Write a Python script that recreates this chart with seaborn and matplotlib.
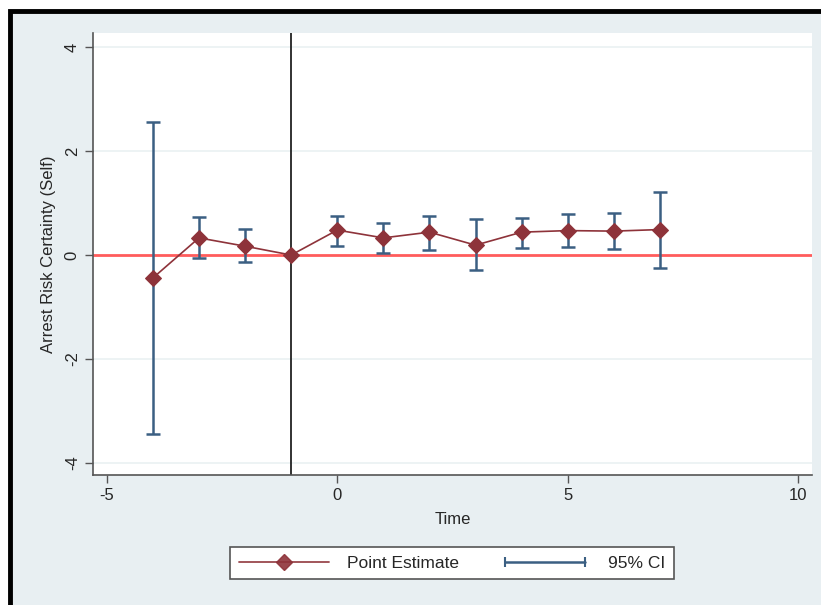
import matplotlib
matplotlib.use("Agg")
import matplotlib.pyplot as plt
import seaborn as sns
import pandas as pd
from matplotlib.lines import Line2D
from matplotlib.legend_handler import HandlerLine2D

# event-time coefficients
time = [-4, -3, -2, -1, 0, 1, 2, 3, 4, 5, 6, 7]
estimate = [-0.44, 0.33, 0.17, 0.0, 0.48, 0.33, 0.44, 0.19, 0.44, 0.47, 0.46, 0.49]
ci_low = [-3.44, -0.06, -0.13, None, 0.18, 0.04, 0.10, -0.28, 0.13, 0.16, 0.12, -0.24]
ci_high = [2.56, 0.73, 0.50, None, 0.76, 0.62, 0.76, 0.69, 0.72, 0.79, 0.80, 1.22]

df = pd.DataFrame({"time": time, "est": estimate, "lo": ci_low, "hi": ci_high})

sns.set_style("white")
plt.rcParams["font.family"] = ["Liberation Sans", "DejaVu Sans"]
plt.rcParams["axes.unicode_minus"] = False

bg = "#E8EFF2"
maroon = "#8E333A"
navy = "#3B5F82"

fig = plt.figure(figsize=(8.21, 6.05), dpi=100)
fig.patch.set_facecolor("white")
# light panel with black frame (only left/top edges fall inside the image)
fig.patches.append(plt.Rectangle((10 / 821, -0.2), 1.2, 1.2 - 11 / 605, transform=fig.transFigure,
                                 facecolor=bg, edgecolor="black", lw=3.5, joinstyle="miter",
                                 zorder=-2))

ax = fig.add_axes([93 / 821, 1 - 475 / 605, (812 - 93) / 821, (475 - 33) / 605])
ax.set_facecolor("white")

ax.set_xlim(-5.3, 10.3)
ax.set_ylim(-4.23, 4.27)
ax.set_xticks([-5, 0, 5, 10])
ax.set_yticks([-4, -2, 0, 2, 4])

for y in [-4, -2, 2, 4]:
    ax.axhline(y, color="#EAF1F2", lw=1.2, zorder=0)

ax.axhline(0, color="#FF5C5C", lw=2, zorder=1)
ax.axvline(-1, color="#222222", lw=1.3, zorder=1)

ci = df.dropna()
ax.errorbar(ci["time"], (ci["lo"] + ci["hi"]) / 2, yerr=(ci["hi"] - ci["lo"]) / 2,
            fmt="none", ecolor=navy, elinewidth=1.8, capsize=5, capthick=1.8, zorder=2)

sns.lineplot(data=df, x="time", y="est", ax=ax, color=maroon, marker="D", markersize=8,
             markeredgecolor=maroon, lw=1.2, zorder=3)

for side in ["top", "right"]:
    ax.spines[side].set_visible(False)
for side in ["left", "bottom"]:
    ax.spines[side].set_color("#555555")
    ax.spines[side].set_linewidth(1.2)

ax.tick_params(axis="both", direction="out", length=6, width=1, color="#555555",
               labelsize=12, left=True, bottom=True)
plt.setp(ax.get_yticklabels(), rotation=90, va="center")
ax.set_xlabel("Time", fontsize=12, labelpad=6)
ax.set_ylabel("Arrest Risk Certainty (Self)", fontsize=12, labelpad=6)

h_est = Line2D([], [], color=maroon, lw=1.3, marker="D", markersize=8, alpha=0.9)
h_ci = Line2D([], [], color=navy, lw=1.8, marker="|", markersize=7, markeredgewidth=1.5)
leg = fig.legend([h_est, h_ci], ["Point Estimate", "95% CI"], loc="center",
                 bbox_to_anchor=(452 / 821, 1 - 563 / 605), ncol=2, fontsize=12.5,
                 frameon=True, fancybox=False, edgecolor="#555555", facecolor="white",
                 framealpha=1, handlelength=5.2, handletextpad=1.0, columnspacing=2.4,
                 borderpad=0.5, handler_map={h_ci: HandlerLine2D(numpoints=2)})
leg.get_frame().set_linewidth(1.2)

fig.savefig("out.png", dpi=100)
